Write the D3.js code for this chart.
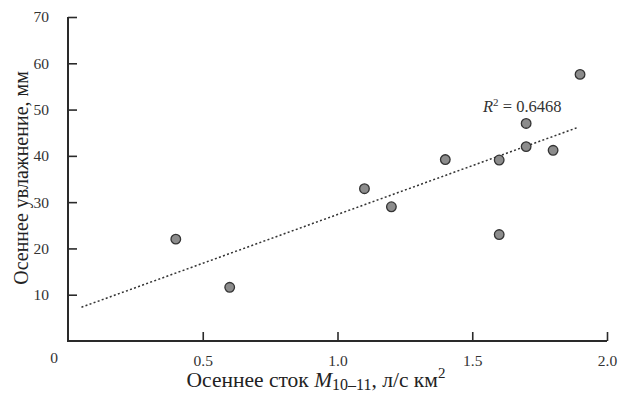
<!DOCTYPE html>
<html><head><meta charset="utf-8">
<script src="https://cdn.jsdelivr.net/npm/d3@7"></script>
<style>body{margin:0;background:#fff}svg{display:block}svg text{font-family:"Liberation Serif","Times New Roman",Times,serif}</style>
</head><body>
<svg id="c" width="619" height="393"></svg>
<script>
const xValues = [0.4, 0.6, 1.1, 1.2, 1.4, 1.6, 1.6, 1.7, 1.7, 1.8, 1.9];
const yValues = [22.0, 11.6, 32.9, 29.0, 39.2, 39.1, 23.0, 47.0, 42.0, 41.2, 57.6];
const trendX = [0.05, 1.89];
const trendY = [7.3, 46.1];
const xTicks = [0.5, 1.0, 1.5, 2.0];
const yTicks = [10, 20, 30, 40, 50, 60, 70];
const r2Label = "0.6468";

const svg = d3.select("#c");
const x = d3.scaleLinear().domain([0, 2]).range([68, 607]);
const y = d3.scaleLinear().domain([0, 70]).range([341, 17]);
const ink = "#2a2a2a";

const xAxis = svg.append("g").attr("transform", `translate(0,${y(0)})`)
  .call(d3.axisBottom(x).tickValues(xTicks).tickFormat(d3.format(".1f")).tickSizeInner(-9).tickSizeOuter(0).tickPadding(14));
const yAxis = svg.append("g").attr("transform", `translate(${x(0)},0)`)
  .call(d3.axisLeft(y).tickValues(yTicks).tickSizeInner(-9).tickSizeOuter(0).tickPadding(19));
[xAxis, yAxis].forEach(g => {
  g.attr("font-family", null);
  g.select(".domain").attr("stroke", ink).attr("stroke-width", 2);
  g.selectAll(".tick line").attr("stroke", ink).attr("stroke-width", 1.6);
  g.selectAll(".tick text").attr("font-size", 15.5).attr("fill", "#333");
});
xAxis.selectAll(".tick text").attr("dy", "0.71em");
xAxis.select(".domain").attr("d", `M${x(0)-1},0H${x(2)}`);
yAxis.select(".domain").attr("d", `M0,${y(0)+1}V${y(70)}`);

svg.append("text").attr("x", x(0) - 14).attr("y", y(0) + 22)
  .attr("text-anchor", "middle").attr("font-size", 15.5).attr("fill", "#333").text("0");

svg.append("line")
  .attr("x1", x(trendX[0])).attr("y1", y(trendY[0]))
  .attr("x2", x(trendX[1])).attr("y2", y(trendY[1]))
  .attr("stroke", "#333").attr("stroke-width", 1.5).attr("stroke-dasharray", "2,2.3");

svg.append("g").selectAll("circle").data(xValues.map((v, i) => [v, yValues[i]]))
  .join("circle").attr("cx", d => x(d[0])).attr("cy", d => y(d[1])).attr("r", 4.8)
  .attr("fill", "#8c8c8c").attr("stroke", "#333").attr("stroke-width", 1.3);

const r2 = svg.append("text").attr("x", 483).attr("y", 112)
  .attr("font-size", 16.5).attr("fill", "#333");
r2.append("tspan").attr("font-style", "italic").text("R");
r2.append("tspan").attr("font-size", 11).attr("dy", -6).text("2");
r2.append("tspan").attr("dy", 6).text(" = " + r2Label);

const xl = svg.append("text").attr("x", 316).attr("y", 387).attr("text-anchor", "middle")
  .attr("font-size", 21.5).attr("fill", "#222");
xl.append("tspan").text("Осеннее сток ");
xl.append("tspan").attr("font-style", "italic").text("M");
xl.append("tspan").attr("font-size", 16).attr("dy", 3).text("10–11");
xl.append("tspan").attr("dy", -3).text(", л/с км");
xl.append("tspan").attr("font-size", 15).attr("dy", -9).text("2");

svg.append("text").attr("transform", "translate(28,178) rotate(-90)").attr("text-anchor", "middle")
  .attr("font-size", 20).attr("fill", "#222").text("Осеннее увлажнение, мм");
</script>
</body></html>
